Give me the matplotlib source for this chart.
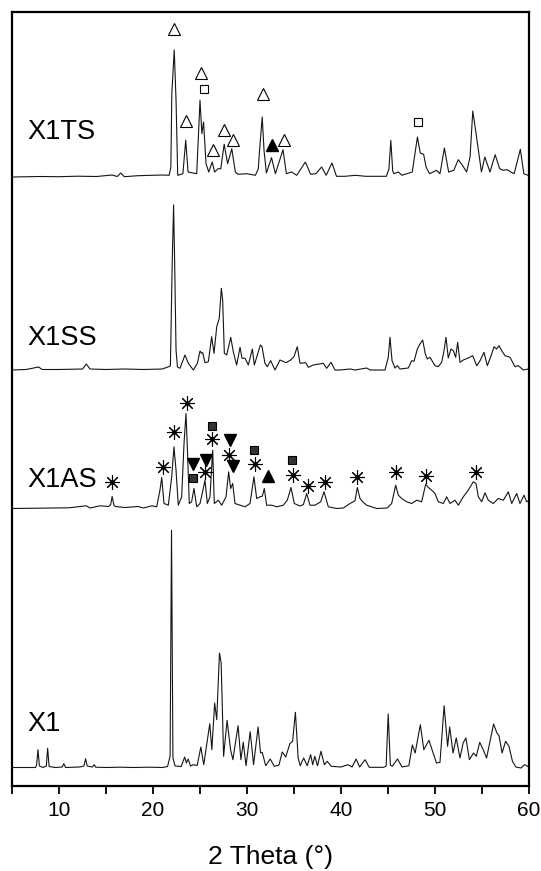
import numpy as np
import matplotlib
matplotlib.use("Agg")
import matplotlib.pyplot as plt

plt.rcParams['font.family'] = ['Liberation Sans', 'DejaVu Sans']

# XRD patterns: (2 theta, intensity above own baseline)
x1_pattern = [
    (5.0, 0.5), (7.5, 0.5), (7.62, 3), (7.76, 18.3), (7.92, 2), (8.3, 0.5), (8.65, 2), (8.79, 19.7),
    (8.95, 1.5), (9.6, 0.5), (10.35, 1), (10.51, 4.3), (10.7, 0.5), (12.2, 1), (12.65, 2), (12.83, 9.3),
    (13.0, 2), (13.55, 1), (13.74, 3.3), (13.9, 0.8), (15.0, 0.5), (16.5, 0.8), (18.0, 0.5), (19.5, 0.8),
    (21.0, 0.5), (21.55, 1.5), (21.82, 12), (21.97, 237.7), (22.12, 10), (22.35, 2), (23.0, 1.5),
    (23.37, 11), (23.55, 5), (23.73, 9), (24.0, 2), (24.28, 3.3), (24.7, 2.5), (25.09, 21), (25.4, 3.3),
    (26.04, 44.3), (26.26, 18.3), (26.56, 65), (26.78, 48.3), (27.07, 115), (27.25, 105), (27.51, 11.7),
    (27.88, 47.7), (28.25, 18.3), (28.5, 8.3), (29.05, 42.3), (29.35, 8.3), (29.6, 25.7), (29.9, 2.3),
    (30.34, 36.3), (30.7, 3.3), (31.18, 41), (31.44, 15), (31.62, 15.7), (31.99, 2.3), (32.47, 9),
    (32.91, 1.7), (33.4, 3), (33.75, 16), (34.12, 11), (34.56, 24.3), (34.85, 26.7), (35.15, 55.7),
    (35.44, 10), (35.66, 2.3), (36.03, 10), (36.4, 2.3), (36.77, 13.3), (36.99, 3.3), (37.21, 11.7),
    (37.5, 2.3), (37.87, 16.7), (38.23, 3.3), (38.53, 6.7), (38.97, 1.7), (40.0, 1.0), (40.73, 3.3),
    (41.17, 1), (41.61, 9), (41.98, 1), (42.56, 8.3), (43.0, 0.7), (44.55, 0.7), (44.8, 2), (45.02, 54),
    (45.25, 3), (45.45, 1.7), (46.01, 9), (46.49, 1), (47.22, 2.3), (47.59, 23), (47.89, 15), (48.44, 43.3),
    (48.81, 18.3), (49.36, 27.7), (49.8, 15), (50.16, 5), (50.53, 5.7), (50.97, 62.3), (51.34, 21.7),
    (51.56, 41), (51.92, 15), (52.26, 30), (52.66, 10), (52.99, 25), (53.29, 30), (53.66, 8.3), (54.1, 15),
    (54.39, 11.7), (54.76, 25.7), (55.13, 18.3), (55.49, 10), (56.23, 44), (56.59, 35), (56.81, 32.3),
    (57.14, 15), (57.51, 26.7), (57.87, 21.7), (58.24, 6.7), (58.6, 1), (59.15, 0), (59.52, 3.3), (60.0, 1),
]

x1as_pattern = [
    (5.0, 0), (7.76, 0.3), (11.06, 0.7), (12.9, 2.7), (13.3, 0.5), (14.37, 2.7), (15.29, 2), (15.5, 4),
    (15.65, 12), (15.85, 3), (16.02, 2), (17.0, 1), (18.41, 2), (19.0, 0.5), (19.88, 2.7), (20.39, 1.7),
    (20.74, 18.3), (20.93, 31), (21.17, 5), (21.63, 3.3), (21.99, 31.7), (22.23, 61.7), (22.45, 38.3),
    (22.69, 3.3), (23.05, 11.7), (23.3, 65), (23.51, 95), (23.69, 51.7), (23.86, 5), (24.11, 6.7),
    (24.36, 20), (24.65, 1.7), (25.0, 5), (25.35, 20), (25.53, 28.3), (25.78, 5), (26.06, 11.7),
    (26.35, 58.3), (26.52, 5), (26.95, 8.3), (27.31, 3.3), (27.77, 11.7), (28.05, 36.7), (28.26, 20),
    (28.48, 25), (28.72, 5), (29.26, 3.3), (29.79, 1.7), (30.32, 5), (30.74, 31.7), (31.03, 10),
    (31.38, 11.7), (31.63, 12.3), (31.84, 20), (32.09, 3.3), (32.63, 3.3), (33.16, 1.7), (33.86, 3.3),
    (34.29, 8.3), (34.68, 21), (35.03, 5), (35.64, 2.5), (36.0, 4), (36.35, 15), (36.7, 3.3), (37.23, 3.3),
    (37.84, 6.7), (38.19, 16.7), (38.65, 1.7), (39.54, 0), (40.25, 0.5), (40.96, 5), (41.49, 7.7),
    (41.74, 21), (42.02, 10), (42.31, 6.7), (42.73, 3.3), (43.8, 0), (44.92, 0.5), (45.39, 5), (45.82, 23.3),
    (46.1, 13.3), (46.46, 10), (46.99, 6.7), (47.52, 5), (48.05, 8.3), (48.58, 6.7), (49.01, 24.3),
    (49.29, 21), (49.65, 18.3), (50.0, 15), (50.35, 6.7), (50.89, 5), (51.24, 11.7), (51.6, 5), (52.13, 8.3),
    (52.48, 3.3), (53.01, 11.7), (53.54, 18.3), (54.07, 26.7), (54.36, 25), (54.61, 11.7), (54.97, 6.7),
    (55.32, 15.7), (55.67, 8.3), (56.2, 5), (56.73, 10), (57.27, 8.3), (57.8, 16.7), (58.16, 5), (58.69, 15),
    (59.04, 5), (59.47, 13.3), (59.75, 6.7), (60.0, 8),
]

x1ss_pattern = [
    (5.0, 0), (6.5, 0.5), (7.84, 3), (8.2, 0.5), (10.0, 0.5), (12.5, 1), (12.9, 6), (13.3, 1), (15.0, 0.5),
    (17.0, 1), (19.0, 0.5), (21.0, 1), (21.85, 4), (22.05, 110), (22.19, 165), (22.3, 110), (22.45, 20),
    (22.6, 3), (22.87, 1.7), (23.4, 15), (23.76, 6.7), (24.29, 0), (24.72, 6.7), (25.0, 19), (25.18, 16.7),
    (25.29, 17.3), (25.53, 7.3), (25.89, 8.3), (26.24, 33.3), (26.49, 16.7), (26.78, 43.3), (27.05, 51.7),
    (27.27, 81.7), (27.41, 70), (27.59, 16.7), (27.84, 15), (28.27, 32.7), (28.54, 18.3), (28.9, 5),
    (29.26, 22.7), (29.47, 11.7), (29.79, 11.7), (30.14, 5), (30.57, 21), (30.78, 5), (31.42, 25),
    (31.6, 23.3), (31.91, 6.7), (32.16, 3.3), (32.52, 9.3), (32.98, 0), (33.51, 10), (34.15, 7.3),
    (34.65, 10), (35.0, 13.3), (35.35, 23.3), (35.64, 6.7), (36.24, 7.3), (36.52, 2.7), (37.06, 5),
    (38.12, 6.7), (38.48, 1.7), (38.94, 7.7), (39.36, 0), (39.89, 0), (40.96, 1), (41.5, 0), (42.73, 2),
    (43.09, 0), (44.68, 0), (45.03, 12.7), (45.21, 32.7), (45.43, 9.3), (45.74, 2), (45.99, 4.3), (46.28, 1),
    (47.16, 2), (47.52, 9.3), (47.77, 8.7), (48.12, 21), (48.4, 26), (48.69, 30), (48.97, 16), (49.18, 11),
    (49.47, 12.7), (50.0, 4.3), (50.35, 3.3), (50.71, 7.7), (50.96, 19.3), (51.17, 32.7), (51.41, 12),
    (51.7, 21), (51.95, 19.3), (52.2, 12.7), (52.41, 27.7), (52.66, 7.7), (53.01, 10), (53.54, 12),
    (54.01, 14.3), (54.44, 4.3), (54.79, 9.3), (55.21, 17.7), (55.57, 4.3), (56.03, 16), (56.28, 23.3),
    (56.56, 21), (56.81, 24.3), (57.1, 19.3), (57.45, 14.3), (57.98, 12.7), (58.51, 3.3), (58.86, 4.3),
    (59.4, 0), (59.93, 1),
]

x1ts_pattern = [
    (5.0, 0), (8.0, 0.5), (10.0, 0.3), (12.0, 0.8), (14.0, 0.5), (15.65, 2), (16.2, 0.5), (16.57, 4),
    (16.94, 0.3), (18.41, 1.3), (20.98, 2), (21.72, 1.7), (21.9, 10), (22.0, 83), (22.26, 127), (22.45, 77),
    (22.63, 1.7), (23.18, 3.3), (23.48, 36.7), (23.73, 5), (24.65, 3.3), (25.0, 76.7), (25.2, 43.3),
    (25.38, 55), (25.64, 13.3), (25.93, 5), (26.3, 15), (26.55, 5), (26.92, 8.3), (27.21, 8.3), (27.57, 32.7),
    (27.94, 13.3), (28.38, 28.3), (28.76, 5), (29.05, 2.7), (29.97, 3.3), (30.89, 1.7), (31.2, 8),
    (31.33, 26), (31.62, 60), (31.81, 26.7), (32.06, 4), (32.61, 19.3), (33.02, 3.3), (33.83, 27.3),
    (34.19, 3.3), (34.74, 5), (35.29, 1.7), (36.21, 15), (36.77, 2.7), (37.32, 3.3), (37.94, 10),
    (38.42, 1.7), (39.04, 14), (39.52, 0.7), (40.43, 0.7), (41.53, 1.7), (42.63, 0.7), (44.83, 0.7),
    (45.1, 8), (45.3, 36.7), (45.5, 6), (45.63, 3.3), (46.11, 5), (46.48, 1.7), (47.58, 5), (48.13, 40),
    (48.43, 24), (48.79, 22.7), (49.05, 10), (49.42, 3.3), (50.16, 6.7), (50.53, 3.3), (51.0, 29),
    (51.45, 5), (52.0, 6.7), (52.48, 17.3), (52.92, 11.7), (53.36, 5), (53.73, 20), (54.02, 66),
    (54.32, 46.7), (54.57, 30), (54.94, 5), (55.3, 20), (55.85, 5), (56.4, 22.3), (56.88, 8.3), (57.25, 6.7),
    (57.69, 7.3), (58.06, 5), (58.42, 3.3), (59.08, 27.7), (59.45, 3.3), (59.89, 1.7), (60.0, 1.7),
]

# phase markers (2 theta, height above baseline)
ts_open_tri = [(22.26, 148), (23.48, 56), (25.09, 104), (26.37, 27), (27.58, 47), (28.5, 37), (31.7, 83), (33.9, 37)]
ts_open_sq = [(25.38, 88), (48.21, 55)]
ts_fill_tri = [(32.61, 32)]

as_star = [(15.65, 26), (21.03, 41), (22.23, 76), (23.59, 105), (25.53, 36), (26.31, 69), (28.09, 53),
           (30.85, 44), (34.86, 33), (36.52, 22), (38.25, 26), (41.74, 31), (45.82, 36), (49.04, 32), (54.33, 36)]
as_fill_sq = [(24.29, 30), (26.24, 82), (30.74, 58), (34.82, 48)]
as_down_tri = [(24.29, 44), (25.6, 48), (28.19, 68), (28.54, 42)]
as_up_tri = [(32.27, 32)]

labels = ['X1', 'X1AS', 'X1SS', 'X1TS']
baselines = [18, 277.5, 416, 609]
label_y = [62, 306, 448, 654]

fig = plt.figure(figsize=(5.41, 8.71), dpi=100)
ax = fig.add_axes([12 / 541, 1 - 786 / 871, 517 / 541, 774 / 871])

patterns = [x1_pattern, x1as_pattern, x1ss_pattern, x1ts_pattern]
for pat, base, name, ly in zip(patterns, baselines, labels, label_y):
    d = np.array(pat)
    ax.plot(d[:, 0], d[:, 1] + base, color='#151515', lw=0.8)
    ax.text(6.65, ly, name, fontsize=19.5, ha='left', va='center')


def mark(points, base, **kw):
    p = np.array(points)
    ax.plot(p[:, 0], p[:, 1] + base, ls='none', **kw)


# X1TS markers
mark(ts_open_tri, baselines[3], marker='^', ms=9, mfc='white', mec='black', mew=0.8)
mark(ts_open_sq, baselines[3], marker='s', ms=6, mfc='white', mec='black', mew=0.8)
mark(ts_fill_tri, baselines[3], marker='^', ms=9, mfc='black', mec='black')

# X1AS markers
mark(as_star, baselines[1], marker=(8, 2, 0), ms=10.5, mec='black', mew=0.8)
mark(as_star, baselines[1], marker='o', ms=2.2, mfc='black', mec='black')
mark(as_fill_sq, baselines[1], marker='s', ms=5.5, mfc='#333333', mec='black', mew=0.8)
mark(as_down_tri, baselines[1], marker='v', ms=9, mfc='black', mec='black')
mark(as_up_tri, baselines[1], marker='^', ms=9, mfc='black', mec='black')

ax.set_xlim(5, 60)
ax.set_ylim(0, 774)
ax.set_yticks([])
ax.set_xticks(np.arange(10, 61, 10))
ax.set_xticks(np.arange(5, 60, 10), minor=True)
ax.tick_params(axis='x', which='both', direction='out', length=6, width=1.3, labelsize=15, pad=5)
for s in ax.spines.values():
    s.set_linewidth(1.6)
ax.set_xlabel('2 Theta (°)', fontsize=19, labelpad=18)

fig.savefig('out.png', dpi=100)
